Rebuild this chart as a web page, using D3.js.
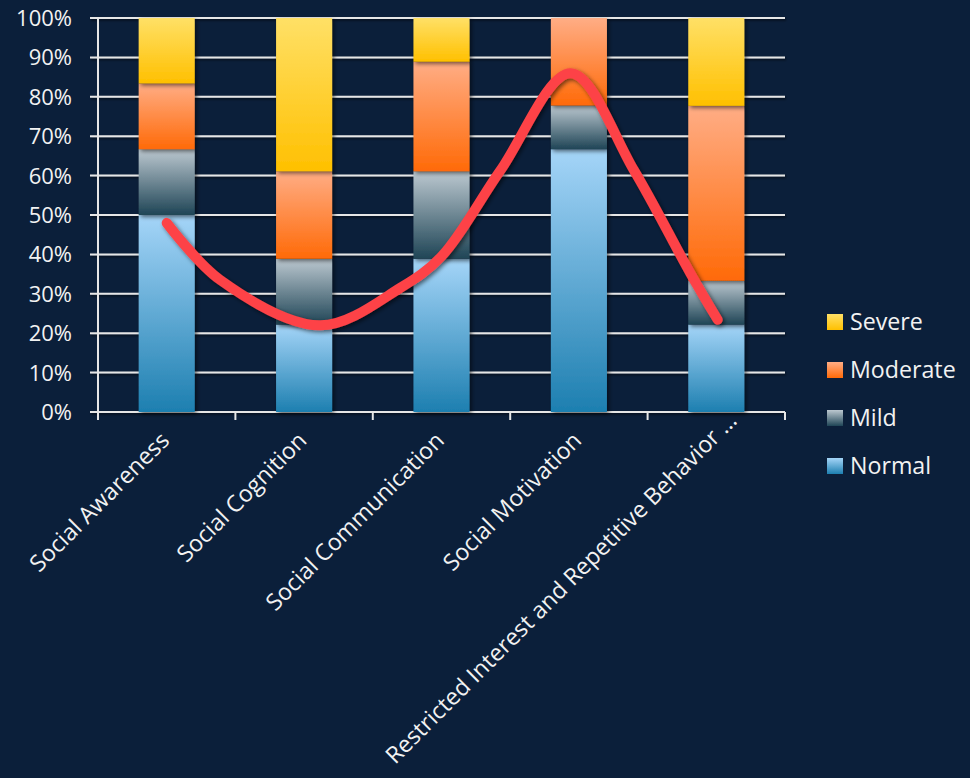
<!DOCTYPE html>
<html>
<head>
<meta charset="utf-8">
<script src="https://cdn.jsdelivr.net/npm/d3@7"></script>
<style>
  html, body { margin: 0; padding: 0; background: #0b1f3a; }
  svg { display: block; }
  text { font-family: "Open Sans", "Noto Sans", sans-serif; fill: #f2f2f2; }
</style>
</head>
<body>
<svg id="chart" width="970" height="778"></svg>
<script>
// ---- data ----
const categories = ["Social Awareness", "Social Cognition", "Social Communication", "Social Motivation", "Restricted Interest and Repetitive Behavior \u2026"];
const seriesNames = ["Normal", "Mild", "Moderate", "Severe"];
const normal   = [50.0, 22.2, 38.9, 66.7, 22.2];
const mild     = [16.7, 16.7, 22.2, 11.1, 11.1];
const moderate = [16.7, 22.2, 27.8, 22.2, 44.4];
const severe   = [16.6, 38.9, 11.1, 0.0, 22.3];
const yTicks = [0, 10, 20, 30, 40, 50, 60, 70, 80, 90, 100];
// hand-drawn red trend curve: position in category units (0 = first category centre), percent
const trendPos = [0, 0.39, 1.12, 1.7, 2.0, 2.43, 2.94, 3.4, 3.81, 4.01];
const trendPct = [48, 33.5, 22, 31.5, 39.5, 61.4, 86, 61.4, 35.3, 23.4];

const seriesValues = [normal, mild, moderate, severe];
const gradStops = {
  Normal:   ["#a5d5f8", "#1d7fb0"],
  Mild:     ["#bcc8d0", "#1f4556"],
  Moderate: ["#ffad85", "#ff6a08"],
  Severe:   ["#ffe066", "#ffc000"]
};

const svg = d3.select("#chart");
const W = 970, H = 778;
svg.append("rect").attr("width", W).attr("height", H).attr("fill", "#0b1f3a");

const plot = { left: 98, right: 785, top: 18, bottom: 412 };

const x = d3.scaleBand().domain(categories).range([plot.left, plot.right])
  .paddingInner(0.592).paddingOuter(0.296);
const y = d3.scaleLinear().domain([0, 100]).range([plot.bottom, plot.top]);
const xc = d3.scaleLinear().domain([0, categories.length - 1])
  .range([x(categories[0]) + x.bandwidth() / 2, x(categories[categories.length - 1]) + x.bandwidth() / 2]);

const defs = svg.append("defs");
seriesNames.forEach(n => {
  const g = defs.append("linearGradient").attr("id", "g-" + n)
    .attr("x1", 0).attr("y1", 0).attr("x2", 0).attr("y2", 1);
  g.append("stop").attr("offset", "0%").attr("stop-color", gradStops[n][0]);
  g.append("stop").attr("offset", "100%").attr("stop-color", gradStops[n][1]);
});
const sh = defs.append("filter").attr("id", "shadow").attr("filterUnits", "userSpaceOnUse")
  .attr("x", 0).attr("y", 0).attr("width", W).attr("height", H);
sh.append("feDropShadow").attr("dx", 2).attr("dy", 2).attr("stdDeviation", 2).attr("flood-color", "#000").attr("flood-opacity", 0.55);
const shLine = defs.append("filter").attr("id", "shadowLine").attr("filterUnits", "userSpaceOnUse")
  .attr("x", 0).attr("y", 0).attr("width", W).attr("height", H);
shLine.append("feDropShadow").attr("dx", 1).attr("dy", 1.5).attr("stdDeviation", 1).attr("flood-color", "#000").attr("flood-opacity", 0.6);

// gridlines
svg.append("g").selectAll("line").data(yTicks).join("line")
  .attr("x1", plot.left - 8).attr("x2", plot.right)
  .attr("y1", d => y(d)).attr("y2", d => y(d))
  .attr("stroke", "#e6e6e6").attr("stroke-width", 2)
  .attr("filter", "url(#shadowLine)");

// y labels
svg.append("g").selectAll("text").data(yTicks).join("text")
  .attr("x", 72).attr("y", d => y(d)).attr("dy", "0.36em")
  .attr("text-anchor", "end").attr("font-size", 22)
  .text(d => d + "%");

// axes lines
svg.append("line").attr("x1", plot.left).attr("x2", plot.left)
  .attr("y1", plot.top).attr("y2", plot.bottom + 8)
  .attr("stroke", "#e6e6e6").attr("stroke-width", 2);
const boundaries = categories.map(c => x(c) - x.step() * x.paddingInner() / 2).concat([plot.right]);
boundaries[0] = plot.left;
svg.append("g").selectAll("line").data(boundaries).join("line")
  .attr("x1", d => d).attr("x2", d => d)
  .attr("y1", plot.bottom).attr("y2", plot.bottom + 8)
  .attr("stroke", "#e6e6e6").attr("stroke-width", 2);

// stacked bars
const rows = categories.map((c, i) => {
  const r = { cat: c };
  seriesNames.forEach((n, k) => r[n] = seriesValues[k][i]);
  return r;
});
const stack = d3.stack().keys(seriesNames)(rows);
svg.append("g").selectAll("g").data(stack).join("g")
  .attr("fill", d => "url(#g-" + d.key + ")")
  .selectAll("rect").data(d => d).join("rect")
  .attr("x", d => x(d.data.cat))
  .attr("width", x.bandwidth())
  .attr("y", d => y(d[1]))
  .attr("height", d => Math.max(0, y(d[0]) - y(d[1])))
  .attr("filter", "url(#shadow)");

// red curve
const pts = trendPos.map((p, i) => [xc(p), y(trendPct[i])]);
svg.append("path").datum(pts)
  .attr("d", d3.line().curve(d3.curveCatmullRom.alpha(0.5)))
  .attr("fill", "none").attr("stroke", "#fd4346").attr("stroke-width", 10)
  .attr("stroke-linecap", "round").attr("stroke-linejoin", "round")
  .attr("filter", "url(#shadow)");

// x labels
svg.append("g").selectAll("text").data(categories).join("text")
  .attr("transform", d => {
    const cx = x(d) + x.bandwidth() / 2;
    const long = d.endsWith("\u2026");
    const sx = long ? 18 : 0, sy = long ? 20 : 0;
    return `translate(${cx + 4 + sx},${plot.bottom + 30 - sy}) rotate(-45)`;
  })
  .attr("text-anchor", "end").attr("font-size", 23.2)
  .text(d => d);

// legend
const legendOrder = ["Severe", "Moderate", "Mild", "Normal"];
const lg = svg.append("g").selectAll("g").data(legendOrder).join("g")
  .attr("transform", (d, i) => `translate(827,${322 + i * 48})`);
lg.append("rect").attr("x", 0).attr("y", -8).attr("width", 16).attr("height", 16)
  .attr("fill", d => "url(#g-" + d + ")");
lg.append("text").attr("x", 23).attr("y", 0).attr("dy", "0.36em").attr("font-size", 23.2)
  .text(d => d);
</script>
</body>
</html>
